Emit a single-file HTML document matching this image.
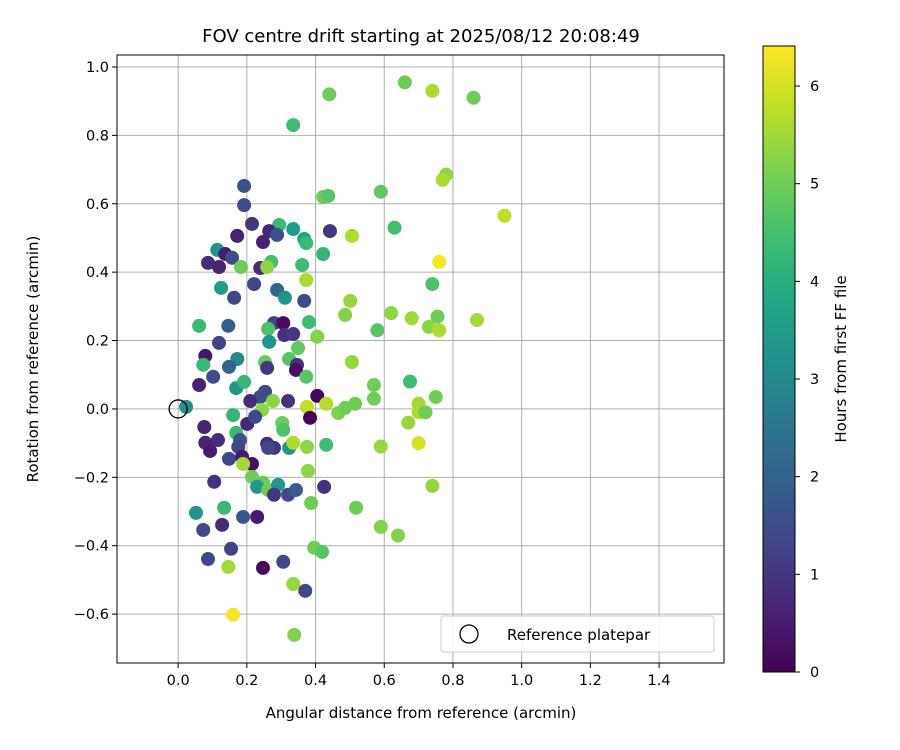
<!DOCTYPE html>
<html><head><meta charset="utf-8">
<style>
html,body{margin:0;padding:0;background:#fff;}
svg{display:block;font-family:"DejaVu Sans","Liberation Sans",sans-serif;}
</style></head>
<body>
<svg id="chart" width="900" height="750" viewBox="0 0 900 750" xmlns="http://www.w3.org/2000/svg">
<defs>
<linearGradient id="vir" x1="0" y1="1" x2="0" y2="0">
<stop offset="0" stop-color="#440154"/><stop offset="0.1" stop-color="#482475"/><stop offset="0.2" stop-color="#414487"/><stop offset="0.3" stop-color="#355f8d"/><stop offset="0.4" stop-color="#2a788e"/><stop offset="0.5" stop-color="#21918c"/><stop offset="0.6" stop-color="#22a884"/><stop offset="0.7" stop-color="#44bf70"/><stop offset="0.8" stop-color="#7ad151"/><stop offset="0.9" stop-color="#bddf26"/><stop offset="1" stop-color="#fde725"/>
</linearGradient>
</defs>
<text x="421" y="42" font-size="18" text-anchor="middle">FOV centre drift starting at 2025/08/12 20:08:49</text>
<g id="grid"></g>
<g id="pts"></g>
<rect x="117" y="55" width="607" height="608" fill="none" stroke="#000" stroke-width="1"/>
<g id="ticks"></g>
<text x="421" y="718" font-size="15" text-anchor="middle">Angular distance from reference (arcmin)</text>
<text x="38" y="359" font-size="15" text-anchor="middle" transform="rotate(-90 38 359)">Rotation from reference (arcmin)</text>
<g>
<rect x="441" y="616" width="273" height="36" rx="3" fill="#fff" fill-opacity="0.85" stroke="#ccc"/>
<circle cx="469" cy="634" r="9" fill="none" stroke="#000" stroke-width="1.3"/>
<text x="507" y="640" font-size="15">Reference platepar</text>
</g>
<g>
<rect x="763" y="46" width="32" height="626" fill="url(#vir)" stroke="#000" stroke-width="1"/>
<g id="cbticks"></g>
<text x="846" y="359" font-size="15" text-anchor="middle" transform="rotate(-90 846 359)">Hours from first FF file</text>
</g>
</svg>
<script>
const xTicks = [0.0,0.2,0.4,0.6,0.8,1.0,1.2,1.4];
const yTicks = [-0.6,-0.4,-0.2,0.0,0.2,0.4,0.6,0.8,1.0];
const cbTicks = [0,1,2,3,4,5,6];
const xVals = [0.192,0.192,0.215,0.294,0.335,0.172,0.265,0.288,0.247,0.442,0.506,0.422,0.437,0.367,0.373,0.422,0.114,0.137,0.087,0.119,0.157,0.183,0.239,0.271,0.259,0.361,0.373,0.221,0.125,0.163,0.288,0.311,0.367,0.501,0.486,0.061,0.146,0.279,0.306,0.262,0.309,0.335,0.381,0.405,0.119,0.265,0.349,0.079,0.073,0.172,0.148,0.253,0.323,0.346,0.259,0.343,0.373,0.506,0.061,0.102,0.169,0.192,0.253,0.239,0.210,0.320,0.276,0.405,0.375,0.431,0.023,0.160,0.244,0.384,0.466,0.486,0.515,0.076,0.201,0.224,0.303,0.306,0.169,0.180,0.116,0.079,0.093,0.175,0.259,0.279,0.262,0.323,0.335,0.375,0.431,0.148,0.186,0.215,0.189,0.378,0.105,0.215,0.247,0.230,0.262,0.291,0.279,0.320,0.343,0.425,0.387,0.518,0.052,0.134,0.189,0.230,0.128,0.073,0.154,0.087,0.146,0.247,0.306,0.396,0.419,0.335,0.370,0.160,0.338,0.335,0.44,0.59,0.63,0.66,0.74,0.86,0.78,0.77,0.95,0.76,0.74,0.62,0.68,0.755,0.87,0.73,0.76,0.58,0.675,0.57,0.57,0.70,0.70,0.72,0.75,0.67,0.70,0.59,0.74,0.59,0.64];
const yVals = [0.652,0.596,0.541,0.538,0.526,0.506,0.520,0.509,0.488,0.520,0.506,0.620,0.623,0.497,0.485,0.453,0.465,0.453,0.427,0.415,0.442,0.415,0.412,0.430,0.415,0.421,0.377,0.365,0.354,0.325,0.348,0.325,0.316,0.316,0.275,0.243,0.243,0.251,0.251,0.234,0.216,0.219,0.254,0.211,0.193,0.196,0.178,0.155,0.129,0.146,0.123,0.137,0.146,0.129,0.120,0.114,0.094,0.137,0.070,0.094,0.061,0.079,0.050,0.035,0.023,0.023,0.023,0.038,0.006,0.015,0.006,-0.018,-0.003,-0.026,-0.012,0.003,0.015,-0.053,-0.044,-0.023,-0.041,-0.061,-0.070,-0.091,-0.091,-0.099,-0.123,-0.111,-0.102,-0.114,-0.114,-0.114,-0.099,-0.111,-0.105,-0.146,-0.140,-0.161,-0.161,-0.181,-0.213,-0.199,-0.216,-0.228,-0.237,-0.222,-0.251,-0.251,-0.237,-0.228,-0.275,-0.289,-0.304,-0.289,-0.316,-0.316,-0.339,-0.354,-0.409,-0.439,-0.462,-0.465,-0.447,-0.406,-0.418,-0.512,-0.532,-0.602,-0.661,0.83,0.92,0.635,0.53,0.955,0.93,0.91,0.685,0.67,0.565,0.43,0.365,0.28,0.265,0.27,0.26,0.24,0.23,0.23,0.08,0.07,0.03,0.015,-0.01,-0.01,0.035,-0.04,-0.10,-0.11,-0.225,-0.345,-0.37];
const hours = [1.6,1.5,1.0,4.3,3.5,0.6,0.7,1.6,0.6,1.0,5.6,5.0,4.7,3.6,4.3,4.2,3.3,0.5,0.8,0.6,1.5,5.0,0.8,4.5,5.3,4.4,5.6,1.4,3.5,1.4,2.1,3.3,1.5,5.4,5.2,4.3,1.9,1.3,0.2,4.6,0.9,1.0,4.4,5.2,1.3,3.3,4.8,0.4,4.3,3.0,2.0,4.9,4.7,0.9,1.0,0.3,4.7,5.4,0.6,1.5,3.3,4.2,1.4,1.6,0.8,0.9,5.3,0.1,5.8,5.7,3.2,4.2,5.3,0.1,5.2,5.0,5.0,0.6,0.7,1.4,5.0,4.6,4.3,1.6,0.8,0.6,0.5,1.4,0.8,1.0,1.4,3.3,5.6,5.3,4.4,1.4,0.5,0.3,5.5,5.3,0.9,5.0,4.9,3.4,5.0,3.4,1.0,1.4,1.9,0.9,5.0,5.0,3.3,4.3,1.7,0.5,0.8,1.4,1.3,1.4,5.5,0.2,1.4,5.0,4.7,5.4,1.4,6.3,5.2,4.4,5.0,4.8,4.5,5.0,5.6,5.0,5.3,5.6,5.8,6.3,4.6,5.3,5.5,5.0,5.5,5.3,5.6,4.7,4.4,5.0,5.0,5.5,5.6,5.0,5.0,5.4,6.0,5.4,5.4,5.2,5.2];
const refPoint = [0.0, 0.0];

const NS='http://www.w3.org/2000/svg';
const X0=117,X1=724,Y0=55,Y1=663;
const xMin=-0.178,xMax=1.589,yMin=-0.743,yMax=1.035;
const cMin=0,cMax=6.41,cTop=46,cBot=672;
const sx=v=>X0+(v-xMin)/(xMax-xMin)*(X1-X0);
const sy=v=>Y1-(v-yMin)/(yMax-yMin)*(Y1-Y0);
const sc=v=>cBot-(v-cMin)/(cMax-cMin)*(cBot-cTop);
const stops=[[68,1,84],[72,36,117],[65,68,135],[53,95,141],[42,120,142],[33,145,140],[34,168,132],[68,191,112],[122,209,81],[189,223,38],[253,231,37]];
function viridis(h){let t=Math.max(0,Math.min(1,(h-cMin)/(cMax-cMin)))*10;let i=Math.min(9,Math.floor(t)),f=t-i;const a=stops[i],b=stops[i+1];return 'rgb('+a.map((c,k)=>Math.round(c+(b[k]-c)*f)).join(',')+')';}
function mk(tag,attrs,parent){const e=document.createElementNS(NS,tag);for(const k in attrs)e.setAttribute(k,attrs[k]);parent.appendChild(e);return e;}
const grid=document.getElementById('grid'),ticks=document.getElementById('ticks'),pts=document.getElementById('pts'),cbt=document.getElementById('cbticks');
xTicks.forEach(t=>{const x=sx(t);
 const g=mk('line',{x1:x,x2:x,y1:Y0,y2:Y1,stroke:'#b0b0b0','stroke-width':1},grid);
 
 
 const tk=mk('line',{x1:x,x2:x,y1:Y1,y2:Y1+5,stroke:'#000'},ticks);
 
 
 const tx=mk('text',{x:x,y:Y1+22,'font-size':14.5,'text-anchor':'middle'},ticks);tx.textContent=t.toFixed(1);
 
 
});
yTicks.forEach(t=>{const y=sy(t);
 const g=mk('line',{x1:X0,x2:X1,y1:y,y2:y,stroke:'#b0b0b0','stroke-width':1},grid);
 
 
 const tk=mk('line',{x1:X0-5,x2:X0,y1:y,y2:y,stroke:'#000'},ticks);
 
 
 const tx=mk('text',{x:X0-8,y:y+5,'font-size':14.5,'text-anchor':'end'},ticks);tx.textContent=(t<0?'\u2212':'')+Math.abs(t).toFixed(1);
 
 
});
xVals.forEach((xv,i)=>{
 const c=mk('circle',{cx:sx(xv),cy:sy(yVals[i]),r:7,fill:viridis(hours[i])},pts);
 
 
});
const ref=mk('circle',{cx:sx(refPoint[0]),cy:sy(refPoint[1]),r:9,fill:'none',stroke:'#000','stroke-width':1.3},pts);


cbTicks.forEach(t=>{const y=sc(t);
 const tk=mk('line',{x1:795,x2:800,y1:y,y2:y,stroke:'#000'},cbt);
 
 
 const tx=mk('text',{x:810,y:y+5,'font-size':14.5},cbt);tx.textContent=t;
 
 
});
</script>
</body></html>
